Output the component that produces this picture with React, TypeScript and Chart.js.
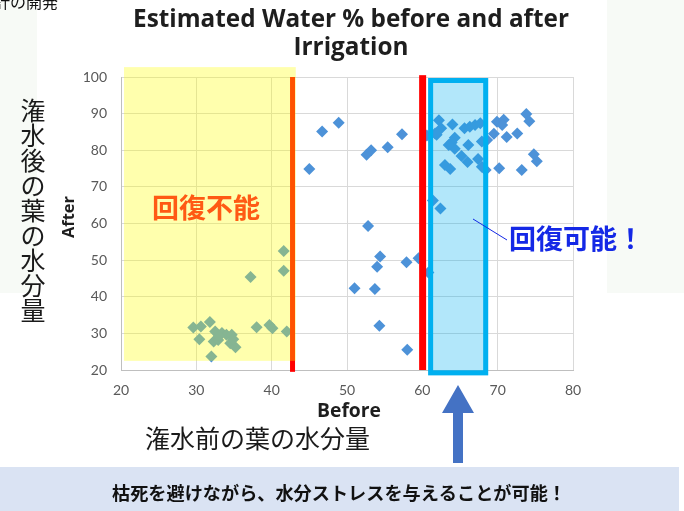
import React, { useEffect, useRef } from "react";
import { Chart, registerables } from "chart.js";

Chart.register(...registerables);

// Before / After water %
const beforeValues = [
  29.6, 30.6, 31.8, 30.4, 32.5, 32.3, 32.9, 33.4, 34.0, 34.7, 34.5, 35.2, 32.0, 38.0, 39.7, 40.1, 42.0, 37.2, 41.6, 41.6, 33.0, 34.9,
  45.0, 46.7, 48.9, 52.6, 53.2, 55.4, 57.3, 52.8, 54.4, 54.0, 57.9, 59.5, 60.8, 51.0, 53.7, 54.3, 58.0, 61.4, 62.4,
  62.2, 61.7, 62.5, 64.0, 64.3, 63.9, 64.3, 66.1, 65.6, 66.3, 67.0, 67.7, 65.2, 66.0, 63.0, 63.7, 67.4, 67.9,
  69.9, 70.8, 70.6, 69.5, 71.2, 72.6, 73.8, 74.2, 74.8, 75.2, 73.2, 70.2, 68.4, 60.6, 61.9, 63.5, 68.6, 67.9,
];
const afterValues = [
  31.6, 31.9, 33.1, 28.4, 30.5, 27.8, 28.2, 30.1, 29.6, 29.6, 27.3, 26.2, 23.7, 31.7, 32.3, 31.4, 30.5, 45.4, 47.1, 52.5, 29.3, 28.4,
  74.9, 85.1, 87.5, 78.8, 80.0, 80.8, 84.4, 59.3, 51.0, 48.2, 49.4, 50.5, 46.6, 42.3, 42.1, 32.1, 25.5, 66.3, 64.1,
  88.2, 84.6, 86.0, 87.0, 83.4, 82.1, 80.4, 81.4, 86.0, 86.4, 86.9, 87.4, 78.4, 76.8, 76.0, 74.9, 77.6, 82.4,
  87.8, 88.3, 86.9, 84.5, 83.6, 84.6, 89.9, 87.9, 78.9, 77.0, 74.6, 75.1, 74.6, 84.0, 84.2, 81.4, 82.8, 75.5,
];

const xRange = [20, 80];
const yRange = [20, 100];
const tickStep = 10;

// annotation zones (data units)
const deadZoneX = [20.4, 43.2];
const deadZoneY = [22.5, 102.7];
const lowThreshold = 42.77;
const lowThresholdY = [19.5, 100];
const highThreshold = 60.04;
const highThresholdY = [20, 100.5];
const stressZoneX = [60.77, 68.74];
const stressZoneY = [18.55, 99.73];

const titleLines = ["Estimated Water % before and after", "Irrigation"];
const xTitle = "Before";
const yTitle = "After";
const yNoteJP = "潅水後の葉の水分量";
const xNoteJP = "潅水前の葉の水分量";
const deadLabel = "回復不能";
const okLabel = "回復可能！";
const bannerText = "枯死を避けながら、水分ストレスを与えることが可能！";
const topCutText = "計の開発";

const JP = '"Noto Sans CJK JP", "Noto Sans CJK SC", sans-serif';
const OS = '"Open Sans", Lato, sans-serif';

function fitFont(ctx: CanvasRenderingContext2D, text: string, weight: string, family: string, width: number) {
  ctx.font = `${weight} 20px ${family}`;
  const w = ctx.measureText(text).width;
  const size = (20 * width) / w;
  ctx.font = `${weight} ${size.toFixed(2)}px ${family}`;
  return size;
}

const overlayPlugin = {
  id: "overlays",
  beforeDraw(chart: any) {
    const ctx = chart.ctx;
    ctx.save();
    ctx.fillStyle = "#ffffff";
    ctx.fillRect(0, 0, chart.width, chart.height);
    ctx.fillStyle = "#f7faf6";
    ctx.fillRect(0, 0, 37, 293);
    ctx.fillRect(607, 0, 77, 293);
    ctx.restore();
  },
  afterDatasetsDraw(chart: any) {
    const ctx = chart.ctx;
    const x = chart.scales.x;
    const y = chart.scales.y;
    ctx.save();
    // red threshold lines
    ctx.fillStyle = "#ff0000";
    let px = x.getPixelForValue(lowThreshold);
    let t = y.getPixelForValue(lowThresholdY[1]);
    let b = y.getPixelForValue(lowThresholdY[0]);
    ctx.fillRect(px - 2.5, t, 5, b - t);
    px = x.getPixelForValue(highThreshold);
    t = y.getPixelForValue(highThresholdY[1]);
    b = y.getPixelForValue(highThresholdY[0]);
    ctx.fillRect(px - 3.5, t, 7, b - t);
    // yellow dead zone
    const yl = x.getPixelForValue(deadZoneX[0]);
    const yr = x.getPixelForValue(deadZoneX[1]);
    const yt = y.getPixelForValue(deadZoneY[1]);
    const yb = y.getPixelForValue(deadZoneY[0]);
    ctx.fillStyle = "rgba(255,255,0,0.32)";
    ctx.fillRect(yl, yt, yr - yl, yb - yt);
    // cyan stress zone
    const cl = x.getPixelForValue(stressZoneX[0]);
    const cr = x.getPixelForValue(stressZoneX[1]);
    const ct = y.getPixelForValue(stressZoneY[1]);
    const cb = y.getPixelForValue(stressZoneY[0]);
    ctx.fillStyle = "rgba(0,176,240,0.30)";
    ctx.fillRect(cl, ct, cr - cl, cb - ct);
    ctx.strokeStyle = "#00b0f0";
    ctx.lineWidth = 5;
    ctx.strokeRect(cl + 2.5, ct + 2.5, cr - cl - 5, cb - ct - 5);
    ctx.restore();
  },
  afterDraw(chart: any) {
    const ctx = chart.ctx;
    ctx.save();
    // title
    ctx.fillStyle = "#1e1e1e";
    ctx.textAlign = "center";
    ctx.textBaseline = "alphabetic";
    const ts = fitFont(ctx, titleLines[0], "bold", OS, 436);
    ctx.fillText(titleLines[0], 351, 27);
    ctx.font = `bold ${ts.toFixed(2)}px ${OS}`;
    ctx.fillText(titleLines[1], 351, 55);
    // axis titles
    fitFont(ctx, xTitle, "bold", OS, 64);
    ctx.fillText(xTitle, 349, 417);
    ctx.save();
    ctx.translate(74, 217);
    ctx.rotate(-Math.PI / 2);
    fitFont(ctx, yTitle, "bold", OS, 42);
    ctx.fillText(yTitle, 0, 0);
    ctx.restore();
    // Japanese axis notes
    ctx.textBaseline = "middle";
    ctx.fillStyle = "#1a1a1a";
    ctx.font = `25px ${JP}`;
    const chars = Array.from(yNoteJP);
    chars.forEach((c, i) => ctx.fillText(c, 33, 110 + i * 25.1));
    ctx.textAlign = "left";
    ctx.fillText(xNoteJP, 145, 438);
    // zone labels
    ctx.font = `bold 27px ${JP}`;
    ctx.fillStyle = "#ff5a14";
    ctx.fillText(deadLabel, 152, 208);
    ctx.fillStyle = "#1428e6";
    ctx.fillText(okLabel, 509, 239);
    ctx.strokeStyle = "#1428e6";
    ctx.lineWidth = 1;
    ctx.beginPath();
    ctx.moveTo(473, 219);
    ctx.lineTo(507, 240);
    ctx.stroke();
    // arrow
    ctx.fillStyle = "#4472c4";
    ctx.beginPath();
    ctx.moveTo(458, 385);
    ctx.lineTo(474, 413);
    ctx.lineTo(463, 413);
    ctx.lineTo(463, 463);
    ctx.lineTo(453, 463);
    ctx.lineTo(453, 413);
    ctx.lineTo(442, 413);
    ctx.closePath();
    ctx.fill();
    // banner
    ctx.fillStyle = "#dae3f3";
    ctx.fillRect(0, 467, 679, 44);
    ctx.fillStyle = "#111111";
    ctx.textAlign = "center";
    fitFont(ctx, bannerText, "bold", JP, 454);
    ctx.fillText(bannerText, 339, 493);
    // cut text on top-left
    ctx.textAlign = "left";
    ctx.font = `16px ${JP}`;
    ctx.fillStyle = "#111111";
    ctx.fillText(topCutText, -6, 2);
    ctx.restore();
  },
};

export default function App() {
  const ref = useRef<HTMLCanvasElement | null>(null);
  useEffect(() => {
    if (!ref.current) return;
    const points = beforeValues.map((v, i) => ({ x: v, y: afterValues[i] }));
    const chart = new Chart(ref.current, {
      type: "scatter",
      data: {
        datasets: [
          {
            data: points,
            pointStyle: "rectRot",
            pointRadius: 6,
            pointBackgroundColor: "#4d92d8",
            pointBorderWidth: 0,
            borderWidth: 0,
          },
        ],
      },
      options: {
        animation: false,
        responsive: false,
        devicePixelRatio: 1,
        layout: { padding: { left: 0, right: 111, top: 77, bottom: 0 } },
        plugins: { legend: { display: false }, tooltip: { enabled: false }, title: { display: false } },
        scales: {
          x: {
            type: "linear",
            min: xRange[0],
            max: xRange[1],
            ticks: { stepSize: tickStep, padding: 12, color: "#595959", font: { family: "Lato", size: 14 } },
            grid: { color: "#d9d9d9", drawTicks: false, lineWidth: 1 },
            border: { color: "#bfbfbf" },
            afterFit: (s: any) => { s.height = 141; },
          },
          y: {
            type: "linear",
            min: yRange[0],
            max: yRange[1],
            ticks: { stepSize: tickStep, padding: 14, color: "#595959", font: { family: "Lato", size: 14 } },
            grid: { color: "#d9d9d9", drawTicks: false, lineWidth: 1 },
            border: { color: "#bfbfbf" },
            afterFit: (s: any) => { s.width = 121; },
          },
        },
      },
      plugins: [overlayPlugin],
    });
    return () => chart.destroy();
  }, []);
  return (
    <div style={{ position: "fixed", left: 0, top: 0, width: 684, height: 511, background: "#fff" }}>
      <canvas ref={ref} width={684} height={511} style={{ display: "block" }} />
    </div>
  );
}
